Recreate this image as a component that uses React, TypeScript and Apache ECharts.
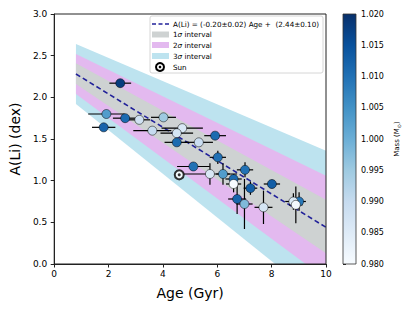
import React, { useEffect, useRef } from "react";
import * as echarts from "echarts";

// Star data
const ages = [2.43, 1.92, 1.82, 2.61, 3.13, 4.02, 3.61, 4.71, 4.51, 5.92, 4.51, 5.32, 6.02, 5.12, 5.73, 6.21, 7.02, 6.6, 6.6, 7.22, 8.01, 6.73, 7.0, 7.7, 9.01, 8.8, 8.89];
const aLi = [2.17, 1.8, 1.64, 1.75, 1.73, 1.76, 1.6, 1.63, 1.57, 1.54, 1.46, 1.46, 1.28, 1.17, 1.08, 1.08, 1.13, 1.02, 0.96, 0.91, 0.96, 0.78, 0.72, 0.68, 0.75, 0.75, 0.71];
const ageErr = [0.4, 0.67, 0.43, 0.45, 0.4, 0.46, 0.7, 0.76, 0.6, 0.4, 0.45, 0.52, 0.3, 0.6, 1.0, 0.25, 0.3, 0.3, 0.28, 0.25, 0.3, 0.33, 0.3, 0.33, 0.25, 0.3, 0.25];
const aLiErr = [0.04, 0.04, 0.04, 0.04, 0.04, 0.04, 0.04, 0.04, 0.04, 0.04, 0.04, 0.04, 0.08, 0.05, 0.13, 0.13, 0.09, 0.06, 0.1, 0.08, 0.05, 0.18, 0.3, 0.2, 0.11, 0.1, 0.22];
const masses = [1.018, 1.003, 1.012, 1.011, 0.988, 0.995, 0.99, 0.986, 0.987, 1.011, 1.011, 0.989, 1.01, 1.01, 0.986, 1.003, 1.01, 1.011, 0.98, 1.013, 1.013, 1.012, 0.998, 0.987, 1.009, 0.986, 0.981];

const sunAge = [4.6];
const sunALi = [1.07];

// Fit line and interval bands (edges at start and end age)
const fitAge = [0.8, 10];
const fitALi = [2.28, 0.44];
const band1Upper = [2.41, 0.77];
const band1Lower = [2.16, 0.13];
const band2Upper = [2.52, 1.06];
const band2Lower = [2.04, -0.18];
const band3Upper = [2.64, 1.36];
const band3Lower = [1.92, -0.49];

const xTicks = [0, 2, 4, 6, 8, 10];
const yTicks = [0, 0.5, 1, 1.5, 2, 2.5, 3];
const massTicks = [0.98, 0.985, 0.99, 0.995, 1.0, 1.005, 1.01, 1.015, 1.02];

const blues = ["#f7fbff", "#deebf7", "#c6dbef", "#9ecae1", "#6baed6", "#4292c6", "#2171b5", "#08519c", "#08306b"];
const bandColors = ["#bde3ef", "#e3b9ef", "#ced2d2"];
const FONT = "DejaVu Sans";

function clipY0(pts: number[][]) {
  const out: number[][] = [];
  const n = pts.length;
  for (let i = 0; i < n; i++) {
    const cur = pts[i];
    const prev = pts[(i + n - 1) % n];
    const cin = cur[1] >= 0;
    const pin = prev[1] >= 0;
    const inter = () => {
      const t = prev[1] / (prev[1] - cur[1]);
      return [prev[0] + t * (cur[0] - prev[0]), 0];
    };
    if (cin) {
      if (!pin) out.push(inter());
      out.push(cur);
    } else if (pin) {
      out.push(inter());
    }
  }
  return out;
}

export default function App() {
  const ref = useRef<HTMLDivElement>(null);
  useEffect(() => {
    if (!ref.current) return;
    const chart = echarts.init(ref.current, null, { renderer: "svg" });

    const bands = [
      [fitAge[0], band3Lower[0], band3Upper[0], fitAge[1], band3Lower[1], band3Upper[1]],
      [fitAge[0], band2Lower[0], band2Upper[0], fitAge[1], band2Lower[1], band2Upper[1]],
      [fitAge[0], band1Lower[0], band1Upper[0], fitAge[1], band1Lower[1], band1Upper[1]],
    ];
    const stars = ages.map((a, i) => [a, aLi[i], masses[i]]);
    const errs = ages.map((a, i) => [a, aLi[i], ageErr[i], aLiErr[i]]);

    const legendX = 152;
    const textX = 173;
    const rows = [24, 34.5, 45, 56, 67];
    const legendFont = 7.2;

    const graphic: any[] = [
      {
        type: "rect",
        shape: { x: 150, y: 16, width: 173, height: 57, r: 2 },
        style: { fill: "rgba(255,255,255,0.85)", stroke: "#cccccc", lineWidth: 0.8 },
        z: 100,
      },
      {
        type: "line",
        shape: { x1: legendX, y1: rows[0], x2: legendX + 17, y2: rows[0] },
        style: { stroke: "#22229a", lineWidth: 1.6, lineDash: [4, 2.5] },
        z: 101,
      },
      {
        type: "text",
        x: textX,
        y: rows[0],
        style: { text: "A(Li) = (-0.20±0.02) Age +  (2.44±0.10)", fontFamily: FONT, fontSize: legendFont, fill: "#000", verticalAlign: "middle" },
        z: 101,
      },
    ];
    const bandLegend = [
      { c: bandColors[2], n: "1" },
      { c: bandColors[1], n: "2" },
      { c: bandColors[0], n: "3" },
    ];
    bandLegend.forEach((b, i) => {
      const y = rows[i + 1];
      graphic.push({ type: "rect", shape: { x: legendX, y: y - 3, width: 17, height: 6 }, style: { fill: b.c }, z: 101 });
      graphic.push({
        type: "text",
        x: textX,
        y,
        style: {
          text: `{n|${b.n}}{s|σ}{n| interval}`,
          rich: {
            n: { fontFamily: FONT, fontSize: legendFont, fill: "#000" },
            s: { fontFamily: FONT, fontSize: legendFont, fontStyle: "italic", fill: "#000" },
          },
          verticalAlign: "middle",
        },
        z: 101,
      });
    });
    graphic.push({ type: "circle", shape: { cx: legendX + 8, cy: rows[4], r: 4 }, style: { fill: "#fff", stroke: "#000", lineWidth: 2 }, z: 101 });
    graphic.push({ type: "circle", shape: { cx: legendX + 8, cy: rows[4], r: 1.3 }, style: { fill: "#000" }, z: 102 });
    graphic.push({
      type: "text",
      x: textX,
      y: rows[4],
      style: { text: "Sun", fontFamily: FONT, fontSize: legendFont, fill: "#000", verticalAlign: "middle" },
      z: 101,
    });
    // colorbar gradient
    graphic.push({
      type: "rect",
      shape: { x: 343, y: 14, width: 13, height: 250 },
      style: {
        fill: new echarts.graphic.LinearGradient(
          0, 1, 0, 0,
          blues.map((c, i) => ({ offset: i / (blues.length - 1), color: c }))
        ),
        stroke: "#333",
        lineWidth: 0.8,
      },
      z: 5,
    });

    const option: any = {
      animation: false,
      backgroundColor: "#fff",
      textStyle: { fontFamily: FONT },
      grid: [
        { left: 53, top: 14, width: 273, height: 250, show: true, borderColor: "#222", borderWidth: 1, backgroundColor: "transparent", z: 10 },
        { left: 343, top: 14, width: 13, height: 250, show: false },
      ],
      xAxis: [
        {
          type: "value",
          gridIndex: 0,
          min: xTicks[0],
          max: xTicks[xTicks.length - 1],
          interval: 2,
          axisLine: { show: true, lineStyle: { color: "#222", width: 1 } },
          axisTick: { show: true, length: 3.5, lineStyle: { color: "#222" } },
          axisLabel: { fontSize: 9, color: "#000", margin: 5, fontFamily: FONT },
          splitLine: { show: false },
          name: "Age (Gyr)",
          nameLocation: "middle",
          nameGap: 22,
          nameTextStyle: { fontSize: 14, color: "#000", fontFamily: FONT },
        },
        { type: "value", gridIndex: 1, min: 0, max: 1, show: false },
      ],
      yAxis: [
        {
          type: "value",
          gridIndex: 0,
          min: yTicks[0],
          max: yTicks[yTicks.length - 1],
          interval: 0.5,
          axisLine: { show: true, lineStyle: { color: "#222", width: 1 } },
          axisTick: { show: true, length: 3.5, lineStyle: { color: "#222" } },
          axisLabel: { fontSize: 9, color: "#000", margin: 7, fontFamily: FONT, formatter: (v: number) => v.toFixed(1) },
          splitLine: { show: false },
          name: "A(Li) (dex)",
          nameLocation: "middle",
          nameRotate: 90,
          nameGap: 28,
          nameTextStyle: { fontSize: 14, color: "#000", fontFamily: FONT },
        },
        {
          type: "value",
          gridIndex: 1,
          position: "right",
          min: massTicks[0],
          max: massTicks[massTicks.length - 1],
          interval: 0.005,
          axisLine: { show: false },
          axisTick: { show: true, length: 3, lineStyle: { color: "#222" } },
          axisLabel: { fontSize: 8, color: "#000", margin: 5, fontFamily: FONT, formatter: (v: number) => v.toFixed(3) },
          splitLine: { show: false },
          name: "{a|Mass (M}{s|⊙}{a|)}",
          nameLocation: "middle",
          nameRotate: 90,
          nameGap: 36,
          nameTextStyle: {
            rich: {
              a: { fontSize: 7, color: "#000", fontFamily: FONT },
              s: { fontSize: 5, color: "#000", fontFamily: FONT, verticalAlign: "bottom", padding: [4, 0, 0, 0] },
            },
          },
        },
      ],
      visualMap: {
        show: false,
        type: "continuous",
        min: massTicks[0],
        max: massTicks[massTicks.length - 1],
        dimension: 2,
        seriesIndex: 5,
        inRange: { color: blues },
      },
      graphic,
      series: [
        {
          type: "custom",
          xAxisIndex: 0,
          yAxisIndex: 0,
          data: bands,
          encode: { x: [0, 3], y: [1, 2, 4, 5] },
          z: 1,
          silent: true,
          renderItem: (params: any, api: any) => {
            const x0 = api.value(0), lo0 = api.value(1), hi0 = api.value(2);
            const x1 = api.value(3), lo1 = api.value(4), hi1 = api.value(5);
            const pts = clipY0([[x0, lo0], [x1, lo1], [x1, hi1], [x0, hi0]]).map((p) => api.coord(p));
            return { type: "polygon", shape: { points: pts }, style: { fill: bandColors[params.dataIndex] } };
          },
        },
        {
          type: "line",
          data: fitAge.map((a, i) => [a, fitALi[i]]),
          showSymbol: false,
          symbol: "none",
          z: 2,
          lineStyle: { color: "#22229a", width: 1.6, type: [5, 3] },
        },
        {
          type: "custom",
          data: errs,
          encode: { x: 0, y: 1 },
          z: 3,
          silent: true,
          renderItem: (params: any, api: any) => {
            const x = api.value(0), y = api.value(1), xe = api.value(2), ye = api.value(3);
            const l = api.coord([x - xe, y]);
            const r = api.coord([x + xe, y]);
            const t = api.coord([x, y + ye]);
            const b = api.coord([x, y - ye]);
            return {
              type: "group",
              children: [
                { type: "line", shape: { x1: l[0], y1: l[1], x2: r[0], y2: r[1] }, style: { stroke: "#000", lineWidth: 1.2 } },
                { type: "line", shape: { x1: t[0], y1: t[1], x2: b[0], y2: b[1] }, style: { stroke: "#000", lineWidth: 1.2 } },
              ],
            };
          },
        },
        {
          type: "scatter",
          data: sunAge.map((a, i) => [a, sunALi[i]]),
          symbol: "circle",
          symbolSize: 9,
          z: 4,
          itemStyle: { color: "#fff", borderColor: "#000", borderWidth: 2 },
        },
        {
          type: "scatter",
          data: sunAge.map((a, i) => [a, sunALi[i]]),
          symbol: "circle",
          symbolSize: 3,
          z: 5,
          itemStyle: { color: "#000" },
        },
        {
          type: "scatter",
          data: stars,
          symbol: "circle",
          symbolSize: 9,
          z: 6,
          itemStyle: { borderColor: "#000", borderWidth: 0.5, opacity: 1 },
        },
      ],
    };
    chart.setOption(option);
    return () => chart.dispose();
  }, []);
  return <div ref={ref} style={{ position: "fixed", left: 0, top: 0, width: 415, height: 311 }} />;
}
